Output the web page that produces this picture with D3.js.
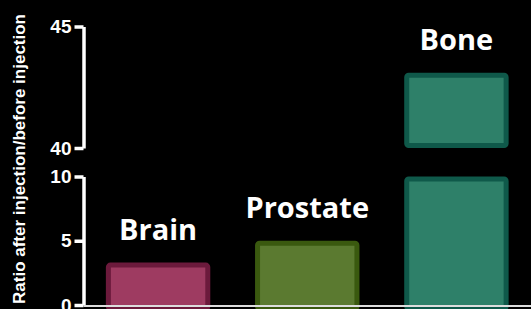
<!DOCTYPE html>
<html>
<head>
<meta charset="utf-8">
<script src="https://cdn.jsdelivr.net/npm/d3@7"></script>
<style>
  html, body { margin: 0; padding: 0; background: #000; }
  svg { display: block; }
</style>
</head>
<body>
<script>
const categories = ['Brain', 'Prostate', 'Bone']
const values = [3.3, 5.0, 43.1]
const fills = ['#9e3b61', '#5b7a30', '#2e8069']
const strokes = ['#6c1a3c', '#3a590f', '#0f594a']
const lowTicks = [0, 5, 10]
const highTicks = [40, 45]
const lowDomain = [0, 10]
const highDomain = [40, 45]

const width = 531
const height = 309
const axisX = 83.5

const svg = d3.select('body').append('svg')
  .attr('width', width)
  .attr('height', height)
  .style('background', '#000')

const x = d3.scaleBand()
  .domain(categories)
  .range([axisX, width])
  .paddingInner(0.3)
  .paddingOuter(0.15)

// two y segments for the broken axis
const yLow = d3.scaleLinear().domain(lowDomain).range([305, 176.5])
const yHigh = d3.scaleLinear().domain(highDomain).range([148, 26.5])

const sw = 5
const bars = categories.map((c, i) => ({ name: c, value: values[i], fill: fills[i], stroke: strokes[i] }))

function drawBars(g, data, scale, lo, hi, bottomExtra) {
  g.selectAll('rect')
    .data(data.filter(d => d.value > lo))
    .join('rect')
    .attr('x', d => x(d.name) + sw / 2)
    .attr('width', x.bandwidth() - sw)
    .attr('y', d => scale(Math.min(d.value, hi)) + sw / 2)
    .attr('height', d => scale(lo) - scale(Math.min(d.value, hi)) - sw + bottomExtra)
    .attr('rx', 2)
    .attr('fill', d => d.fill)
    .attr('stroke', d => d.stroke)
    .attr('stroke-width', sw)
}

drawBars(svg.append('g'), bars, yLow, lowDomain[0], lowDomain[1], 6)
drawBars(svg.append('g'), bars, yHigh, highDomain[0], highDomain[1], 0)

// category labels above bars
svg.append('g')
  .selectAll('text')
  .data(bars)
  .join('text')
  .attr('x', d => x(d.name) + x.bandwidth() / 2)
  .attr('y', d => (d.value > highDomain[0] ? yHigh(d.value) : yLow(d.value)) - 23)
  .attr('text-anchor', 'middle')
  .attr('fill', '#fff')
  .attr('font-family', '"Open Sans", sans-serif')
  .attr('font-weight', 'bold')
  .attr('font-size', 29)
  .text(d => d.name)

// axes
const styleAxis = g => {
  g.selectAll('.domain').attr('stroke', '#fff').attr('stroke-width', 3.5)
  g.selectAll('.tick line').attr('stroke', '#fff').attr('stroke-width', 3.5)
  g.selectAll('.tick text')
    .attr('fill', '#fff')
    .style('font-family', '"Liberation Sans", Arial, sans-serif')
    .style('font-weight', 'bold')
    .style('font-size', '19px')
}

svg.append('g')
  .attr('transform', `translate(${axisX},0)`)
  .call(d3.axisLeft(yLow).tickValues(lowTicks).tickFormat(d3.format('d')).tickSize(9).tickPadding(3).tickSizeOuter(0))
  .call(styleAxis)

svg.append('g')
  .attr('transform', `translate(${axisX},0)`)
  .call(d3.axisLeft(yHigh).tickValues(highTicks).tickFormat(d3.format('d')).tickSize(9).tickPadding(3).tickSizeOuter(0))
  .call(styleAxis)

// baseline
svg.append('line')
  .attr('x1', axisX)
  .attr('x2', width)
  .attr('y1', yLow(0) + 1)
  .attr('y2', yLow(0) + 1)
  .attr('stroke', '#ddd')
  .attr('stroke-width', 2)

svg.append('text')
  .attr('transform', `translate(25,${(13 + 305) / 2}) rotate(-90)`)
  .attr('text-anchor', 'middle')
  .attr('fill', '#fff')
  .attr('font-family', '"Liberation Sans", Arial, sans-serif')
  .attr('font-weight', 'bold')
  .attr('font-size', 17)
  .text('Ratio after injection/before injection')
</script>
</body>
</html>
